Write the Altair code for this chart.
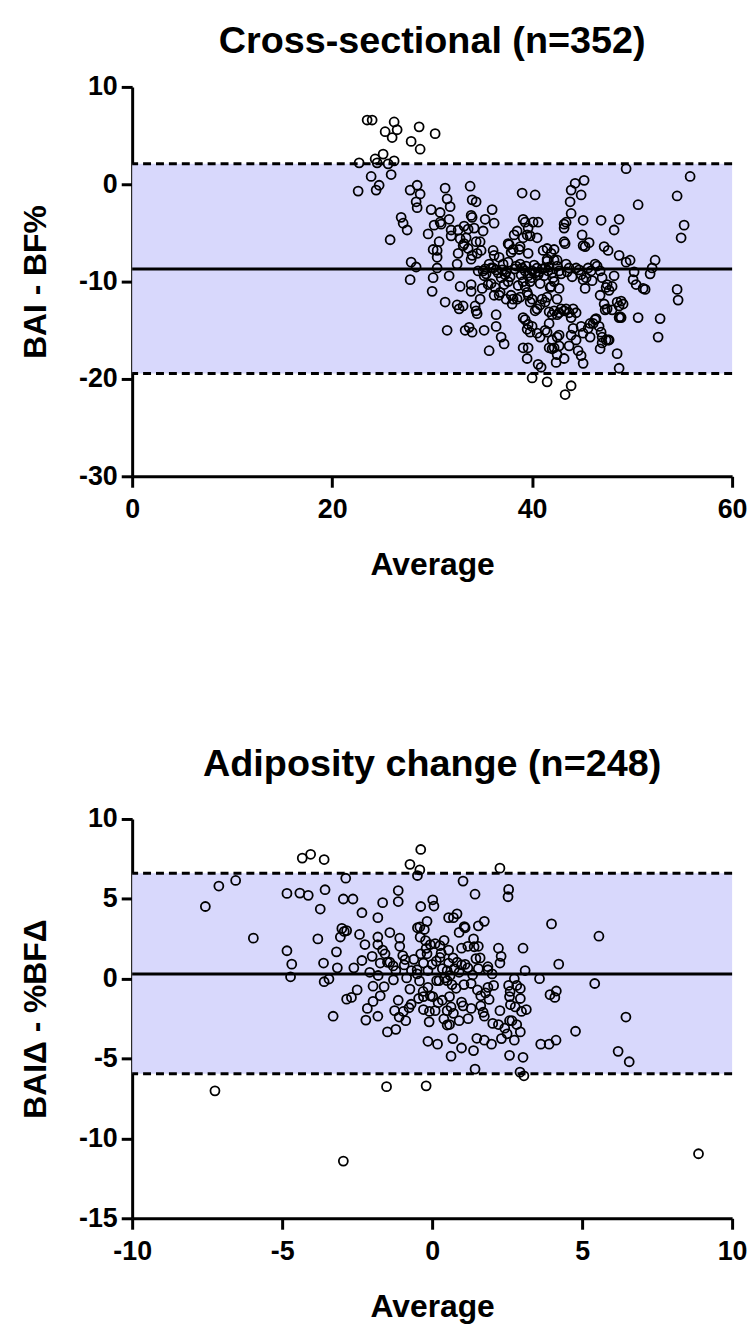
import altair as alt
import pandas as pd

FONT = "Liberation Sans"

# ---------------- Cross-sectional (n=352) ----------------
cs_avg = [
    23.5, 24.0, 26.2, 25.3, 26.5, 26.0, 27.9, 28.7, 28.8, 30.3, 22.7, 24.3, 25.1, 25.6, 26.2, 24.5, 23.9, 25.9, 24.7, 24.4, 22.6,
    28.5, 27.8, 28.8, 28.4, 28.5, 26.9, 27.1, 27.5, 25.8, 27.9, 28.4, 27.8, 29.9, 29.6, 30.2, 30.5, 30.1, 30.7, 31.3, 31.5,
    31.8, 30.9, 30.8, 31.7, 31.9, 30.8, 30.5, 30.5, 30.1, 30.0, 31.3, 31.5, 31.7, 31.9,
    32.8, 32.6, 33.1, 32.6, 32.5, 33.2, 33.6, 33.4, 33.2, 33.8, 34.0, 34.4, 33.9, 34.0, 34.2, 33.6, 34.4, 33.9, 34.5, 34.8,
    35.1, 35.3, 36.0, 36.2, 34.9, 34.0,
    32.8, 33.1, 32.7, 32.5, 34.3, 34.4, 34.5, 33.9, 33.9, 34.8, 35.0, 35.1, 35.2, 35.3, 35.6, 35.7, 36.1, 36.2, 36.4, 36.7,
    36.1, 36.9, 37.1, 37.4, 35.9, 36.2, 36.4, 36.7, 36.8, 37.2, 37.3, 37.4, 37.6, 37.9, 38.0, 38.1, 38.5, 38.8, 37.6,
    33.3, 33.7, 34.0, 35.2, 35.7, 36.4, 36.9, 37.2, 37.7, 38.1, 38.2, 38.5, 38.8, 38.4, 38.8, 39.1, 39.3, 39.6, 39.1, 39.5,
    39.6, 39.8, 40.1, 39.0, 40.3, 40.5, 40.6,
    37.6, 37.9, 38.7, 39.0, 39.3, 39.6, 39.8, 40.0, 40.3, 40.5, 40.6, 40.8, 41.0, 41.3, 41.5, 41.7, 42.0, 42.2, 42.5, 42.7,
    41.5, 41.1, 41.5, 41.9, 42.2, 42.5,
    39.1, 39.3, 39.5, 39.6, 39.8, 40.0, 40.3, 40.5, 40.8, 41.0, 41.3, 41.5, 41.9, 42.2, 42.5, 42.7, 42.9, 43.2, 43.4, 43.7,
    43.9, 44.1, 44.4, 42.2, 42.5, 42.7, 41.7, 42.0,
    39.1, 39.3, 39.6, 39.5, 39.8, 40.0, 40.5, 40.8, 41.3, 41.5, 41.7, 42.0, 42.5, 42.7, 39.1, 39.6, 39.5, 40.6, 40.9, 40.0,
    41.5, 41.7, 42.0, 42.2, 42.7, 42.5, 42.4, 43.2, 43.7, 43.9, 44.1, 44.4, 44.6, 44.9, 45.1, 45.1, 44.9, 45.6, 45.8, 43.3,
    43.9,
    43.2, 43.2, 43.4, 43.2, 43.3, 43.9, 43.8, 44.3, 43.9, 45.2, 44.9, 45.1, 45.0, 45.3, 45.1, 45.7, 46.9, 47.2, 47.6, 48.7,
    48.2, 49.4, 50.6, 48.7, 49.4, 49.8, 50.2, 50.1, 50.4, 51.1, 51.3, 52.3, 52.0, 51.8,
    43.4, 43.7, 44.4, 44.9, 45.1, 45.3, 45.6, 45.9, 46.3, 46.5, 46.8, 47.0, 47.4, 47.5, 47.7, 48.0, 48.2, 46.8, 47.2, 47.3,
    47.5, 48.0, 48.5, 48.7, 48.9, 49.1, 46.4, 46.7, 46.9, 47.0, 47.4, 47.6, 48.8, 48.9, 48.7, 45.8, 46.1, 46.3, 46.8, 47.0,
    47.7, 48.5, 48.7,
    54.5, 55.2, 54.9, 54.5, 54.6, 52.8, 52.6, 50.6, 55.8,
    34.6, 35.4, 35.9, 36.6, 37.0, 37.8, 38.3, 38.9, 39.4, 39.9, 40.2, 40.7, 41.2, 41.6, 42.1, 42.9, 43.5, 44.0, 44.7, 45.4,
    46.0, 36.3, 38.6, 41.8,
]
cs_diff = [
    6.6, 6.6, 6.4, 5.4, 5.6, 4.8, 4.4, 5.9, 3.6, 5.2, 2.2, 2.6, 3.1, 2.1, 2.4, 2.2, 0.8, 1.0, -0.1, -0.6, -0.7,
    -0.1, -0.6, -1.0, -1.8, -2.4, -3.4, -4.0, -4.7, -5.7, -8.0, -8.5, -9.8, -2.6, -5.1, -4.2, -6.8, -6.7, -5.9, -0.4, -1.5,
    -2.3, -4.1, -2.9, -3.6, -4.7, -3.9, -7.5, -8.6, -9.6, -11.0, -12.1, -15.0, -9.4, -5.3,
    -5.6, -4.7, -6.3, -7.1, -8.2, -4.3, -4.6, -5.5, -6.1, -0.2, -1.6, -1.8, -3.2, -3.4, -4.5, -6.6, -5.9, -7.7, -7.1, -5.9,
    -4.8, -3.6, -2.6, -4.0, -6.8, -7.3,
    -10.5, -12.5, -12.8, -12.4, -12.5, -13.0, -13.3, -10.3, -11.0, -11.8, -10.7, -8.9, -9.4, -8.7, -10.3, -8.2, -6.8, -7.3,
    -8.8, -7.5, -8.6, -9.6, -8.2, -9.0, -10.2, -11.4, -13.4, -11.4, -11.1, -10.3, -9.3, -11.8, -10.0, -11.4, -12.3, -11.8,
    -11.8, -11.6, -8.0,
    -15.0, -14.7, -15.2, -15.0, -17.1, -14.6, -15.7, -16.4, -6.2, -6.7, -5.2, -4.8, -8.2, -8.4, -6.4, -3.6, -3.9, -4.5, -5.5,
    -5.2, -7.1, -5.3, -3.9, -0.9, -1.1, -5.5, -3.9,
    -6.1, -7.0, -6.7, -8.6, -8.9, -9.4, -10.0, -8.9, -9.1, -8.6, -9.3, -10.2, -8.7, -8.6, -7.9, -8.5, -9.1, -7.8, -8.4, -8.9,
    -7.7, -6.8, -6.6, -7.1, -6.7, -7.8,
    -10.0, -10.5, -11.1, -11.4, -12.1, -11.8, -13.0, -12.8, -12.4, -11.8, -12.1, -11.6, -10.5, -10.0, -11.8, -10.7, -12.8,
    -13.0, -12.8, -13.2, -13.7, -12.8, -13.2, -13.0, -13.4, -13.2, -13.1, -13.4,
    -13.7, -13.9, -14.4, -14.9, -15.2, -14.6, -15.3, -15.7, -15.0, -15.2, -14.3, -16.0, -15.7, -15.5, -16.8, -16.8, -17.9,
    -18.5, -18.8, -19.9, -20.3, -16.8, -16.9, -16.8, -16.6, -17.5, -18.3, -17.9, -16.6, -15.5, -14.8, -16.0, -17.1, -17.6,
    -18.4, -15.3, -14.6, -14.8, -14.3, -21.6, -20.7,
    -4.5, -4.1, -3.9, -5.9, -6.1, -3.0, -1.8, 0.1, -0.6, 0.4, -1.1, -3.7, -5.2, -6.4, -6.3, -6.0, -3.7, -6.4, -6.8, -3.6,
    -4.7, 1.6, -2.1, -7.3, -8.0, -7.8, -9.0, -9.8, -10.3, -10.7, -10.8, -7.8, -8.6, -9.2,
    -8.2, -8.6, -8.6, -9.3, -9.8, -10.7, -8.6, -8.9, -8.2, -8.4, -8.9, -9.6, -10.6, -10.3, -10.9, -10.5, -9.4, -11.4, -12.3,
    -12.9, -12.8, -12.9, -12.1, -12.5, -12.0, -12.3, -13.8, -14.6, -15.2, -15.7, -16.0, -16.0, -13.6, -13.7, -13.7, -15.7,
    -14.3, -13.9, -16.9, -16.3, -16.0, -17.4, -18.9,
    -1.2, -4.2, -5.5, -10.8, -11.9, -13.8, -15.7, -13.7, 0.8,
    -8.9, -9.2, -8.6, -9.1, -8.8, -9.5, -8.7, -9.3, -8.4, -9.6, -8.3, -9.0, -9.4, -8.9, -9.6, -9.2, -9.0, -9.5, -8.8, -9.6,
    -9.9, -10.6, -10.4, -10.6,
]
cs_limits = {"upper": 2.1, "mean": -8.7, "lower": -19.45}
cs_xticks = [0, 20, 40, 60]
cs_yticks = [10, 0, -10, -20, -30]

# ---------------- Adiposity change (n=248) ----------------
ch_avg = [
    -0.38, -0.74, -0.41, -0.49, -4.33, -4.05, -3.60, -2.88, 2.26, 1.03,
    2.55, 2.53, 1.43, -7.11, -6.55, -7.56, -4.84, -4.41, -4.13, -3.57,
    -2.96, -2.64, -3.73, -2.34, -1.65, -1.13, -1.13, -1.81, 0.02, 0.06,
    -0.38, 0.55, 0.71, 0.83, 1.54, 1.74, 1.07, 1.10, -0.17, -0.49,
    -0.41, -0.26, -3.01, -2.93, -2.85, -5.96, -3.81, -3.06, -2.42, -1.81,
    -1.41, -1.08, -1.81, -2.24, -1.65, -1.08, -0.22, -0.06, 0.10, 0.26,
    0.55, 0.98, 1.19, 1.54, 1.38, 2.21, 3.03, 3.98, 5.56, -4.84,
    -4.68, -3.19, -3.62, -3.16, -2.61, -2.34, -2.08, -1.57, -1.49, -1.41,
    -1.73, -0.98, -0.61, -0.38, -0.29, -0.17, 0.14, 0.26, 0.55, 0.83,
    0.98, 1.19, 1.46, 1.54, 1.86, 2.26, 1.86, 3.10, 4.22, -1.21,
    -0.93, -0.69, -0.50, -0.14, 0.34, 0.50, 0.74, 0.90, 1.35, -4.72,
    -3.60, -3.44, -1.29, -0.85, -0.74, -0.42, -0.14, 0.15, 0.23, 0.42,
    0.50, 0.66, 1.06, 1.51, 1.86, 2.05, 2.55, 2.74, 2.82, 2.94,
    3.58, 5.42, 4.14, 3.93, 4.09, -2.85, -2.69, -1.97, -1.73, -1.97,
    -1.13, -0.45, -0.29, -0.06, 0.02, 0.34, 0.58, 0.98, 1.62, 1.78,
    2.58, 2.94, 2.61, 2.77, 2.98, 3.14, -3.30, -2.16, -2.21, -1.81,
    -1.25, -0.96, -0.77, -0.88, -0.29, -0.09, 0.10, 0.50, 0.63, 0.71,
    0.90, 1.03, 1.30, 1.62, 1.74, 2.02, 2.21, 2.26, 2.42, 2.58,
    2.66, 2.82, 2.94, 2.50, 2.31, 2.74, -1.49, -1.21, -0.10, 0.39,
    0.58, -0.14, 0.18, 0.69, 0.98, 0.63, 1.38, 1.49, 1.74, 1.98,
    2.58, 3.03, 3.62, 3.90, 4.13, 4.78, 6.20, 6.57, 6.46, 1.43,
    2.93, 3.06, -7.24, -1.52, -0.20, -2.96, 8.88,
    -0.9, -0.5, -0.2, 0.3, 0.6, 0.8, 1.1, 1.3, 1.6, 1.9,
    -1.3, -1.6, -0.7, -0.3, 0.2, 0.4, 0.9, 1.2, 1.7, 2.3,
    2.6, -2.0, -2.5, -1.1, 0.0, 0.5, 1.4, 2.0, -0.4, 0.7, -1.8,
]
ch_diff = [
    8.09, 7.16, 6.81, 6.46, 7.55, 7.79, 7.46, 6.29, 6.92, 6.11,
    5.59, 5.13, 5.29, 5.80, 6.15, 4.52, 5.34, 5.36, 5.22, 5.57,
    4.99, 4.99, 4.36, 4.13, 4.76, 5.52, 4.83, 3.82, 4.94, 4.55,
    4.52, 3.82, 3.82, 4.06, 3.31, 3.59, 3.26, 3.19, 3.59, 3.19,
    3.24, 3.08, 3.15, 2.96, 3.01, 2.54, 2.49, 2.61, 2.77, 2.61,
    2.89, 2.54, 2.14, 2.14, 1.79, 2.03, 2.38, 2.14, 2.19, 2.07,
    1.79, 1.91, 2.03, 2.03, 2.49, 1.91, 1.91, 3.43, 2.66, 1.75,
    0.91, 1.68, 0.98, 0.68, 0.68, 1.14, 0.40, 1.56, 1.03, 1.03,
    0.98, 1.45, 1.21, 1.56, 0.98, 1.56, 1.10, 1.33, 0.98, 1.03,
    0.86, 0.68, 1.26, 0.63, 0.75, 0.98, 0.56, 0.51, 0.91, 0.51,
    0.86, 0.51, 0.56, 0.51, 0.63, 0.51, 0.63, 0.40, 0.23, 0.12,
    -0.19, -0.02, -0.07, 0.05, -0.65, -0.14, -0.54, -0.12, -0.12, 0.05,
    -0.12, -0.37, -0.37, -0.70, -0.54, -0.42, -0.42, 0.00, -0.42, -0.61,
    0.00, -0.30, -0.77, -1.00, -1.17, -1.28, -1.17, -0.47, -1.07, -1.42,
    -1.35, -1.24, -1.12, -1.07, -1.12, -1.35, -1.12, -1.47, -1.07, -0.89,
    -1.12, -1.24, -1.63, -1.77, -2.05, -1.93, -2.35, -1.86, -2.59, -2.35,
    -2.00, -2.05, -1.82, -2.63, -1.93, -2.05, -2.00, -2.00, -1.77, -2.17,
    -2.63, -1.70, -1.86, -1.70, -2.35, -2.80, -2.87, -2.00, -3.10, -2.63,
    -2.63, -2.87, -3.33, -3.45, -3.75, -3.85, -3.33, -3.17, -2.70, -2.52,
    -2.87, -3.92, -4.10, -3.75, -4.34, -4.85, -4.50, -3.73, -3.85, -4.10,
    -4.80, -4.92, -4.10, -4.10, -3.85, -3.29, -4.55, -5.20, -2.40, -5.66,
    -5.85, -6.08, -7.02, -6.76, -6.71, -11.42, -10.96,
    1.2, 0.3, 1.9, 1.6, 0.2, -0.6, 0.9, -0.3, 1.3, -1.3,
    0.8, -0.5, -1.6, -0.8, -1.5, 2.4, 2.9, -2.5, -2.1, 1.4,
    -0.8, 1.4, -0.7, -2.4, 0.9, -2.9, 2.0, 0.3, 2.6, 1.3, 0.2,
]
ch_limits = {"upper": 6.6, "mean": 0.3, "lower": -5.95}
ch_xticks = [-10, -5, 0, 5, 10]
ch_yticks = [10, 5, 0, -5, -10, -15]

BAND = "#d8d8fc"

AXIS_STYLE = dict(
    grid=False,
    domainColor="black", domainWidth=3,
    tickColor="black", tickWidth=3, tickSize=11,
    labelFont=FONT, labelFontSize=27, labelFontWeight="bold", labelColor="black",
    titleFont=FONT, titleFontSize=32, titleFontWeight="bold", titleColor="black",
    labelOverlap=False, labelFlush=False,
    labelExpr="'' + datum.value",
)


def bland_altman(avg, diff, limits, xdom, ydom, xticks, yticks, title, ytitle, w, h, title_offset):
    n = min(len(avg), len(diff))
    pts = pd.DataFrame({"avg": avg[:n], "diff": diff[:n]})
    band = pd.DataFrame({"lo": [limits["lower"]], "hi": [limits["upper"]]})
    lim = pd.DataFrame({"v": [limits["upper"], limits["lower"]]})
    mean = pd.DataFrame({"v": [limits["mean"]]})

    xs = alt.Scale(domain=xdom, nice=False, zero=False)
    ys = alt.Scale(domain=ydom, nice=False, zero=False)
    xax = alt.Axis(values=xticks, title="Average", labelPadding=9, titlePadding=28, **AXIS_STYLE)
    yax = alt.Axis(values=yticks, title=ytitle, labelPadding=4, titlePadding=26, **AXIS_STYLE)

    band_l = alt.Chart(band).mark_rect(color=BAND, opacity=1).encode(
        x=alt.datum(xdom[0], scale=xs, axis=xax, type="quantitative"),
        x2=alt.datum(xdom[1]),
        y=alt.Y("lo:Q", scale=ys, axis=yax),
        y2="hi:Q",
    )
    pts_l = alt.Chart(pts).mark_point(
        shape="circle", filled=False, stroke="black", strokeWidth=1.8, size=82, opacity=1
    ).encode(
        x=alt.X("avg:Q", scale=xs, axis=xax),
        y=alt.Y("diff:Q", scale=ys, axis=yax),
    )
    lim_l = alt.Chart(lim).mark_rule(color="black", strokeWidth=3, strokeDash=[8, 5]).encode(
        y=alt.Y("v:Q", scale=ys, axis=yax),
    )
    mean_l = alt.Chart(mean).mark_rule(color="black", strokeWidth=3).encode(
        y=alt.Y("v:Q", scale=ys, axis=yax),
    )
    return alt.layer(band_l, pts_l, lim_l, mean_l).properties(
        width=w, height=h,
        title=alt.TitleParams(text=title, fontSize=38, font=FONT, fontWeight="bold",
                              color="black", anchor="middle", frame="group", offset=title_offset),
    )


top = bland_altman(cs_avg, cs_diff, cs_limits, [0, 60], [-30, 10], cs_xticks, cs_yticks,
                   "Cross-sectional (n=352)", "BAI - BF%", 604, 392, 12)
bottom = bland_altman(ch_avg, ch_diff, ch_limits, [-10, 10], [-15, 10], ch_xticks, ch_yticks,
                      "Adiposity change (n=248)", "BAIΔ - %BFΔ", 604, 402, 21)

chart = alt.vconcat(top, bottom, spacing=167).properties(
    padding={"left": 11, "top": 11, "right": 0, "bottom": 0},
    background="white",
).configure_view(stroke=None)

chart.save("out.html", embed_options={"renderer": "svg", "actions": False})
